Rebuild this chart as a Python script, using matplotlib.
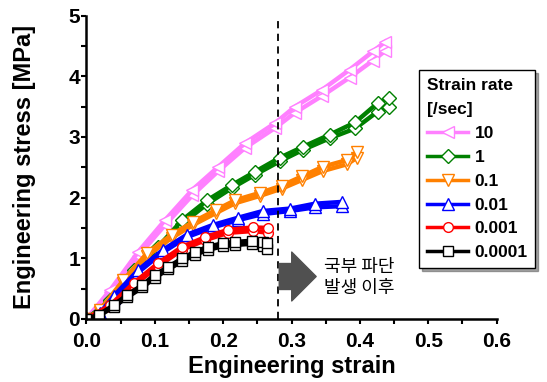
import numpy as np
import matplotlib
matplotlib.use("Agg")
import matplotlib.pyplot as plt
from matplotlib.ticker import MultipleLocator

plt.rcParams['font.family'] = ['Arial', 'Liberation Sans', 'DejaVu Sans']

# strain rate groups: label, colour, marker
rates = ['10', '1', '0.1', '0.01', '0.001', '0.0001']
colors = ['#ff80ff', '#008000', '#ff8000', '#0000ff', '#ff0000', '#000000']
markers = ['<', 'D', 'v', '^', 'o', 's']

# read-off marker points (two replicates per rate)
strain_10 = [0, 0.035, 0.076, 0.115, 0.155, 0.193, 0.232, 0.276, 0.305, 0.345, 0.385, 0.419, 0.437]
stress_10a = [0, 0.48, 1.11, 1.63, 2.13, 2.51, 2.90, 3.23, 3.50, 3.78, 4.11, 4.41, 4.57]
stress_10b = [0, 0.44, 1.04, 1.55, 2.04, 2.44, 2.82, 3.15, 3.40, 3.68, 3.98, 4.26, 4.42]

strain_1 = [0, 0.035, 0.069, 0.105, 0.14, 0.177, 0.213, 0.247, 0.283, 0.317, 0.356, 0.393, 0.426, 0.442]
stress_1a = [0, 0.31, 0.81, 1.19, 1.63, 1.96, 2.21, 2.43, 2.66, 2.84, 3.04, 3.24, 3.56, 3.65]
stress_1b = [0, 0.28, 0.76, 1.14, 1.57, 1.90, 2.16, 2.38, 2.60, 2.79, 2.98, 3.14, 3.42, 3.50]

strain_01 = [0, 0.02, 0.054, 0.089, 0.125, 0.156, 0.19, 0.218, 0.254, 0.286, 0.315, 0.346, 0.381, 0.396]
stress_01a = [0, 0.15, 0.64, 1.09, 1.39, 1.60, 1.80, 1.96, 2.08, 2.20, 2.35, 2.51, 2.62, 2.75]
stress_01b = [0, 0.12, 0.60, 1.04, 1.34, 1.55, 1.75, 1.91, 2.03, 2.15, 2.29, 2.44, 2.55, 2.66]

strain_001 = [0, 0.02, 0.04, 0.076, 0.112, 0.147, 0.185, 0.222, 0.258, 0.298, 0.334, 0.374]
stress_001a = [0, 0.10, 0.38, 0.81, 1.14, 1.39, 1.55, 1.67, 1.78, 1.82, 1.90, 1.93]
stress_001b = [0, 0.08, 0.34, 0.77, 1.10, 1.35, 1.51, 1.63, 1.73, 1.78, 1.84, 1.86]

strain_0001 = [0, 0.035, 0.069, 0.105, 0.14, 0.174, 0.207, 0.244, 0.266]
stress_0001a = [0, 0.23, 0.59, 0.92, 1.19, 1.35, 1.47, 1.51, 1.50]
stress_0001b = [0, 0.20, 0.55, 0.87, 1.14, 1.30, 1.42, 1.45, 1.42]

strain_00001 = [0, 0.018, 0.04, 0.06, 0.082, 0.1, 0.12, 0.14, 0.159, 0.178, 0.2, 0.218, 0.242, 0.258, 0.264]
stress_00001a = [0, 0.07, 0.23, 0.40, 0.56, 0.73, 0.86, 1.00, 1.11, 1.19, 1.25, 1.27, 1.29, 1.27, 1.25]
stress_00001b = [0, 0.05, 0.20, 0.36, 0.52, 0.68, 0.82, 0.95, 1.06, 1.14, 1.20, 1.22, 1.24, 1.20, 1.15]

strains = [strain_10, strain_1, strain_01, strain_001, strain_0001, strain_00001]
stresses_a = [stress_10a, stress_1a, stress_01a, stress_001a, stress_0001a, stress_00001a]
stresses_b = [stress_10b, stress_1b, stress_01b, stress_001b, stress_0001b, stress_00001b]

fracture_strain = 0.28

fig = plt.figure(figsize=(5.47, 3.82), dpi=100)
ax = fig.add_axes([0.158, 0.165, 0.75, 0.794])

msizes = {'<': 9, 'D': 7, 'v': 8, '^': 8, 'o': 7, 's': 7}
handles = []
for x, ya, yb, c, m, lab in zip(strains, stresses_a, stresses_b, colors, markers, rates):
    for y in (yb, ya):
        h, = ax.plot(x, y, color=c, lw=3.2, marker=m, ms=msizes[m],
                     mfc='white', mec=c, mew=1.0, label=lab)
    handles.append(h)

ax.axvline(fracture_strain, color='black', ls=(0, (4, 3)), lw=1.3)

ax.annotate('', xy=(0.336, 0.70), xytext=(0.282, 0.70),
            arrowprops=dict(arrowstyle='simple,head_length=0.8,head_width=1.6,tail_width=0.85',
                            color='#505050', mutation_scale=22, shrinkA=0, shrinkB=0))
ax.text(0.347, 0.68, '국부 파단\n발생 이후', fontsize=13, va='center', ha='left',
        family=['Noto Sans CJK KR', 'DejaVu Sans'], linespacing=1.25)

ax.set_xlim(0, 0.6)
ax.set_ylim(0, 5)
ax.xaxis.set_major_locator(MultipleLocator(0.1))
ax.xaxis.set_minor_locator(MultipleLocator(0.05))
ax.yaxis.set_major_locator(MultipleLocator(1))
ax.yaxis.set_minor_locator(MultipleLocator(0.5))
ax.xaxis.set_major_formatter(matplotlib.ticker.FormatStrFormatter('%.1f'))
ax.tick_params(which='both', direction='out', length=3.5, width=1.5, labelsize=15)
ax.tick_params(axis='x', pad=6)
ax.tick_params(axis='y', pad=1)
for lbl in ax.get_xticklabels() + ax.get_yticklabels():
    lbl.set_fontweight('bold')
ax.spines['top'].set_visible(False)
ax.spines['right'].set_visible(False)
for s in ('left', 'bottom'):
    ax.spines[s].set_linewidth(1.8)

ax.set_xlabel('Engineering strain', fontsize=17, fontweight='bold', labelpad=3)
ax.set_ylabel('Engineering stress [MPa]', fontsize=17, fontweight='bold', labelpad=23)

leg = fig.legend(handles, rates, title='Strain rate\n[/sec]', loc='upper left',
                 bbox_to_anchor=(0.766, 0.817), borderaxespad=0, frameon=True,
                 fancybox=False, shadow=True,
                 prop={'weight': 'bold', 'size': 12.5}, handlelength=2.4, labelspacing=0.5,
                 handletextpad=0.35, borderpad=0.45)
leg.get_title().set_fontweight('bold')
leg.get_title().set_fontsize(12.5)
leg.get_title().set_linespacing(1.8)
leg._legend_box.align = 'left'
leg.get_frame().set_edgecolor('black')
leg.get_frame().set_linewidth(1.0)
for lh in leg.legend_handles:
    lh.set_linewidth(2.5)

fig.savefig('out.png', dpi=100)
